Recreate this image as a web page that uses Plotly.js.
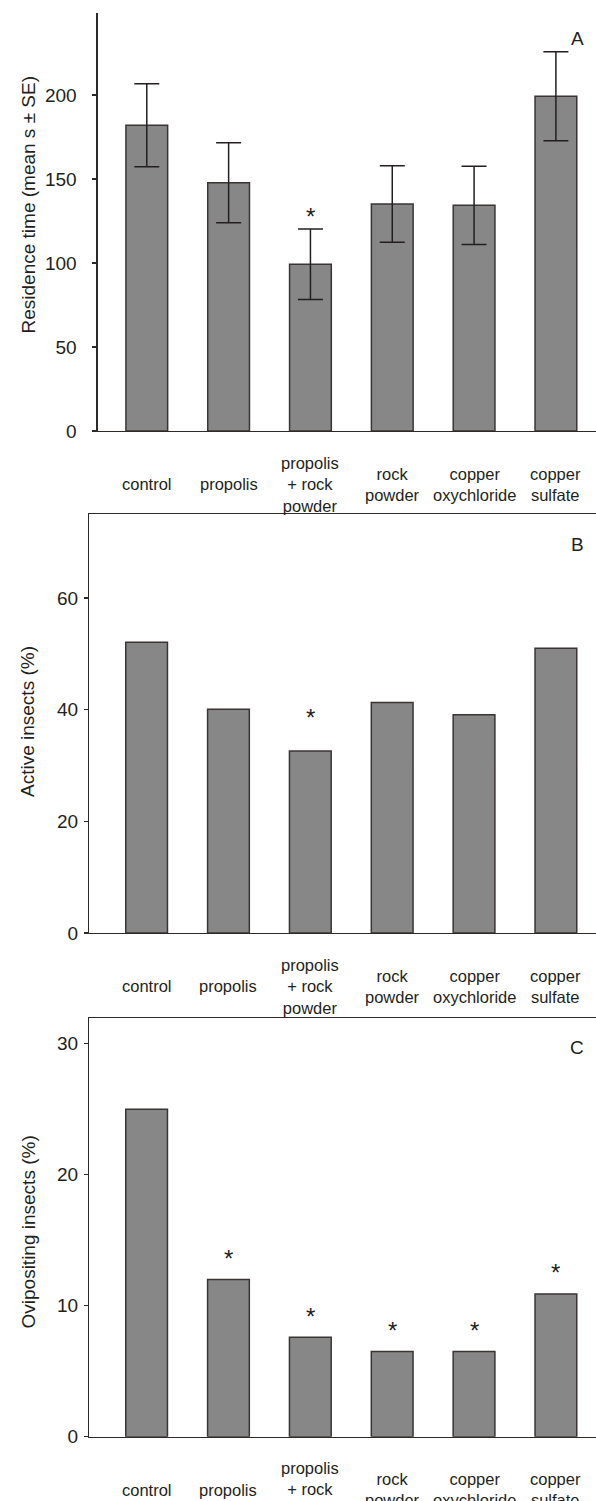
<!DOCTYPE html>
<html>
<head>
<meta charset="utf-8">
<script src="https://cdn.plot.ly/plotly-3.0.1.min.js"></script>
<style>html,body{margin:0;padding:0;background:#fff;}#chart{width:596px;height:1501px;}</style>
</head>
<body>
<div id="chart"></div>
<script>
// ---- data ----
var categories = ['control', 'propolis', 'propolis + rock powder', 'rock powder', 'copper oxychloride', 'copper sulfate'];
var categoryLabels = ['control', 'propolis', 'propolis<br>+ rock<br>powder', 'rock<br>powder', 'copper<br>oxychloride', 'copper<br>sulfate'];
var residenceTime = [181.9, 147.8, 99.2, 135.1, 134.3, 199.2];
var residenceSE = [24.7, 23.8, 21.0, 22.8, 23.3, 26.5];
var activeInsects = [52.1, 40.1, 32.6, 41.3, 39.1, 51.0];
var ovipositingInsects = [25.0, 12.0, 7.6, 6.5, 6.5, 10.9];
var sigA = [false, false, true, false, false, false];
var sigB = [false, false, true, false, false, false];
var sigC = [false, true, true, true, true, true];
var yTitleA = 'Residence time (mean s ± SE)';
var yTitleB = 'Active insects (%)';
var yTitleC = 'Ovipositing insects (%)';
var panelLetters = ['A', 'B', 'C'];

// ---- style ----
var FONT = 'Liberation Sans, Arial, sans-serif';
var TXT = '#231f20';
var LINE = '#2e2a28';
var H = 1501, W = 596;
function py(pix) { return 1 - pix / H; }

var barStyle = {color: '#878787', line: {color: '#3a3533', width: 1.5}};

var traces = [
  {type: 'bar', x: categories, y: residenceTime, xaxis: 'x', yaxis: 'y', width: 0.51, marker: barStyle,
   error_y: {type: 'data', array: residenceSE, visible: true, color: '#231f20', thickness: 1.5, width: 12.5}},
  {type: 'bar', x: categories, y: activeInsects, xaxis: 'x2', yaxis: 'y2', width: 0.51, marker: barStyle},
  {type: 'bar', x: categories, y: ovipositingInsects, xaxis: 'x3', yaxis: 'y3', width: 0.51, marker: barStyle}
];

function xax(domL, rangeL, mirror) {
  return {domain: [domL, 1], type: 'category', range: [rangeL, 5.49], showline: true, linecolor: LINE, linewidth: 1.3,
          mirror: mirror, ticks: '', showticklabels: false, showgrid: false, zeroline: false, fixedrange: true};
}
function yax(dom, range, dtick, standoff, anchor) {
  return {domain: dom, range: range, dtick: dtick, tick0: 0, showline: true, linecolor: LINE, linewidth: 1.3,
          ticks: 'outside', ticklen: 4, tickwidth: 1.3, tickcolor: LINE, showgrid: false, zeroline: false,
          tickfont: {family: FONT, size: 19, color: TXT}, ticklabelstandoff: standoff, anchor: anchor, fixedrange: true};
}

var domA = [py(431), py(13.3)];
var domB = [py(933), py(514.3)];
var domC = [py(1436.7), py(1018)];

var annotations = [];
// category labels
var panelBottoms = [[domA[0], 'x'], [domB[0], 'x2'], [domC[0], 'x3']];
panelBottoms.forEach(function (pb) {
  categories.forEach(function (c, i) {
    annotations.push({x: c, xref: pb[1], y: pb[0], yref: 'paper', yshift: -53, yanchor: 'middle', xanchor: 'center',
      text: categoryLabels[i], showarrow: false, font: {family: FONT, size: 16.5, color: TXT}});
  });
});
// significance asterisks
function addStars(sig, vals, extra, xr, yr, shift) {
  sig.forEach(function (s, i) {
    if (!s) return;
    annotations.push({x: categories[i], xref: xr, y: vals[i] + (extra ? extra[i] : 0), yref: yr, yanchor: 'middle',
      yshift: shift, text: '*', showarrow: false, font: {family: FONT, size: 24, color: TXT}});
  });
}
addStars(sigA, residenceTime, residenceSE, 'x', 'y', 13);
addStars(sigB, activeInsects, null, 'x2', 'y2', 34);
addStars(sigC, ovipositingInsects, null, 'x3', 'y3', 21);
// panel letters
[[38, 'A'], [545, 'B'], [1047, 'C']].forEach(function (p, i) {
  annotations.push({x: 577 / W, xref: 'paper', y: py(p[0]), yref: 'paper', xanchor: 'center', yanchor: 'middle',
    text: panelLetters[i], showarrow: false, font: {family: FONT, size: 19, color: TXT}});
});
// y axis titles
[[205, yTitleA], [721.5, yTitleB], [1232, yTitleC]].forEach(function (t) {
  annotations.push({x: 27.5 / W, xref: 'paper', y: py(t[0]), yref: 'paper', xanchor: 'center', yanchor: 'middle',
    textangle: -90, text: t[1], showarrow: false, font: {family: FONT, size: 19, color: TXT}});
});

var layout = {
  width: W, height: H, margin: {l: 0, r: 0, t: 0, b: 0}, showlegend: false,
  paper_bgcolor: '#fff', plot_bgcolor: '#fff', font: {family: FONT, color: TXT},
  xaxis: xax(97.7 / W, -0.6, false),
  yaxis: yax(domA, [0, 248.6], 50, 12, 'x'),
  xaxis2: xax(89.3 / W, -0.7, true),
  yaxis2: yax(domB, [0, 75.0], 20, 2, 'x2'),
  xaxis3: xax(89.3 / W, -0.7, true),
  yaxis3: yax(domC, [0, 31.96], 10, 2, 'x3'),
  annotations: annotations
};
layout.xaxis.anchor = 'y';
layout.xaxis2.anchor = 'y2';
layout.xaxis3.anchor = 'y3';

Plotly.newPlot('chart', traces, layout, {displayModeBar: false, staticPlot: true});
</script>
</body>
</html>
